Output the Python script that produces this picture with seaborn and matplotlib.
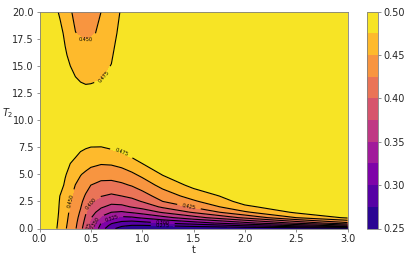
import numpy as np
import seaborn as sns
import matplotlib
matplotlib.use("Agg")
import matplotlib.pyplot as plt

# grid: t across, T2 up
t_vals = [0.0, 0.1, 0.15, 0.2, 0.25, 0.3, 0.35, 0.4, 0.45, 0.5,
          0.6, 0.7, 0.8, 0.9, 1.0, 1.2, 1.5, 2.0, 2.5, 3.0]
T2_vals = [0, 0.25, 0.5, 1, 1.5, 2, 2.5, 3, 4, 5, 6, 7, 8, 10, 12, 13, 14, 16, 18, 20]

# one row per T2 value
z_rows = [
    [.49, .49, .480, .467, .453, .440, .4275, .408, .385, .360, .3125, .281, .266, .260, .257, .255, .255, .255, .255, .255],
    [.49, .49, .481, .4676, .4541, .441, .4289, .4104, .3879, .3642, .3188, .2916, .2778, .2725, .272, .275, .2813, .300, .325, .3594],
    [.49, .49, .482, .468, .4553, .4419, .4302, .4127, .3908, .3683, .325, .3025, .2917, .2875, .2906, .300, .3125, .3417, .3786, .4192],
    [.49, .49, .484, .4695, .4576, .4438, .433, .4174, .3965, .3768, .3458, .3273, .3194, .3214, .3281, .3417, .365, .405, .450, .4788],
    [.49, .49, .485, .471, .4599, .4458, .4357, .4222, .4026, .3857, .3633, .350, .3472, .3525, .3594, .3778, .4028, .4464, .4791, .49],
    [.49, .49, .486, .472, .4622, .4477, .4385, .4266, .4092, .3946, .3784, .3679, .3688, .3766, .3839, .4042, .4286, .4705, .49, .49],
    [.49, .49, .487, .473, .4645, .4496, .4412, .4306, .4158, .4029, .3898, .3829, .3853, .3922, .4013, .425, .4464, .4836, .49, .49],
    [.49, .49, .488, .4745, .4668, .4529, .444, .4347, .4224, .4103, .4009, .3961, .400, .4054, .4145, .4364, .460, .49, .49, .49],
    [.49, .49, .489, .4842, .4713, .4603, .4495, .4427, .4345, .425, .4181, .417, .4208, .4269, .4365, .4577, .4817, .49, .49, .49],
    [.49, .49, .490, .490, .477, .4676, .459, .4511, .4464, .4406, .435, .4353, .4393, .4462, .4558, .4767, .49, .49, .49, .49],
    [.49, .49, .490, .490, .487, .475, .469, .4625, .4585, .4553, .4516, .4526, .4571, .4654, .475, .49, .49, .49, .49, .49],
    [.49, .49, .490, .490, .490, .4875, .480, .4739, .4707, .4684, .4672, .4698, .475, .4833, .49, .49, .49, .49, .49, .49],
    [.49, .49, .490, .490, .490, .490, .490, .4854, .4828, .4813, .4818, .4867, .49, .49, .49, .49, .49, .49, .49, .49],
    [.49, .49, .490, .490, .490, .490, .490, .490, .490, .490, .490, .490, .49, .49, .49, .49, .49, .49, .49, .49],
    [.49, .49, .490, .490, .490, .4886, .4854, .4842, .4829, .4829, .4817, .484, .49, .49, .49, .49, .49, .49, .49, .49],
    [.49, .49, .490, .490, .487, .4842, .4802, .4781, .4768, .4771, .4778, .481, .489, .49, .49, .49, .49, .49, .49, .49],
    [.49, .49, .490, .490, .4837, .4796, .475, .472, .4707, .4712, .4738, .4775, .487, .49, .49, .49, .49, .49, .49, .49],
    [.49, .49, .488, .4892, .4775, .4704, .4646, .4598, .4585, .4594, .4659, .4733, .484, .489, .49, .49, .49, .49, .49, .49],
    [.49, .49, .484, .4806, .4713, .4612, .4505, .4478, .4463, .4477, .4528, .4692, .480, .487, .49, .49, .49, .49, .49, .49],
    [.49, .49, .480, .472, .465, .452, .445, .437, .434, .436, .450, .465, .477, .485, .49, .49, .49, .49, .49, .49],
]

levels = np.linspace(0.25, 0.5, 11)
cbar_ticks = [0.25, 0.30, 0.35, 0.40, 0.45, 0.50]

sns.set_style("ticks")
plt.rcParams["font.family"] = ["DejaVu Sans"]

Z = np.array(z_rows)
cmap = sns.color_palette("plasma", as_cmap=True)

fig = plt.figure(figsize=(4.11, 2.59), dpi=100)
ax = fig.add_axes([39.5 / 411, 1 - 228.5 / 259, 308 / 411, 216.8 / 259])
cax = fig.add_axes([366.8 / 411, 1 - 228.5 / 259, 10.8 / 411, 216.8 / 259])

cf = ax.contourf(t_vals, T2_vals, Z, levels=levels, cmap=cmap)
cs = ax.contour(t_vals, T2_vals, Z, levels=levels[1:-1], colors="k", linewidths=0.8)
ax.clabel(cs, fmt="%.3f", fontsize=3.5, inline=True)

ax.set_xlim(0, 3)
ax.set_ylim(0, 20)
ax.set_xticks([0, 0.5, 1.0, 1.5, 2.0, 2.5, 3.0])
ax.set_yticks([0, 2.5, 5, 7.5, 10, 12.5, 15, 17.5, 20])
ax.set_xticklabels(["0.0", "0.5", "1.0", "1.5", "2.0", "2.5", "3.0"])
ax.set_yticklabels(["0.0", "2.5", "5.0", "7.5", "10.0", "12.5", "15.0", "17.5", "20.0"])
ax.tick_params(labelsize=7, length=2.5, width=0.6, pad=1.5, color="0.5")
ax.set_xlabel("t", fontsize=7, labelpad=1)
ax.set_ylabel("$T_2$", fontsize=7, rotation=0, labelpad=3)

cb = fig.colorbar(cf, cax=cax, ticks=cbar_ticks)
cb.ax.set_yticklabels(["0.25", "0.30", "0.35", "0.40", "0.45", "0.50"])
cb.ax.tick_params(labelsize=7, length=2.5, width=0.6, pad=1.5, color="0.5")
cb.outline.set_linewidth(0.6)
cb.outline.set_edgecolor("0.5")
for s in ax.spines.values():
    s.set_linewidth(0.6)
    s.set_edgecolor("0.5")

fig.savefig("out.png", dpi=100)
